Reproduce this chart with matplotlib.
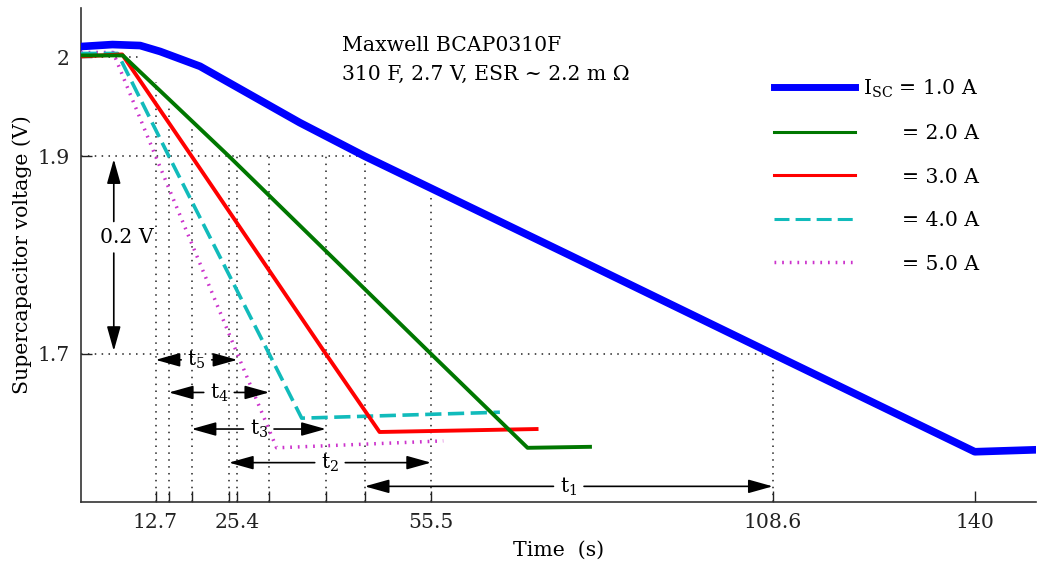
import matplotlib
matplotlib.use("Agg")
import matplotlib.pyplot as plt
from matplotlib.lines import Line2D
import numpy as np

plt.rcParams['font.family'] = ['DejaVu Serif']
plt.rcParams['mathtext.fontset'] = 'dejavuserif'

FS = 14.7

# discharge curves (time in s, voltage in V)
t_1A = [1.1, 6.0, 10.3, 13.4, 19.6, 35.1, 45.2, 77.0, 108.6, 140.0, 149.5]
v_1A = [2.011, 2.013, 2.012, 2.006, 1.991, 1.934, 1.900, 1.800, 1.700, 1.601, 1.603]
t_2A = [1.1, 7.6, 14.4, 24.1, 55.5, 70.5, 80.2]
v_2A = [2.002, 2.002, 1.960, 1.900, 1.700, 1.605, 1.606]
t_3A = [1.1, 7.5, 18.3, 39.15, 47.5, 71.9]
v_3A = [2.001, 2.003, 1.900, 1.700, 1.621, 1.624]
t_4A = [1.1, 6.8, 14.76, 30.35, 35.4, 66.2]
v_4A = [2.004, 2.004, 1.900, 1.700, 1.635, 1.641]
t_5A = [1.1, 6.1, 12.7, 25.4, 31.5, 57.4]
v_5A = [2.005, 2.005, 1.900, 1.700, 1.605, 1.612]

# crossing times, order t1..t5
t_cross_19 = [45.2, 24.1, 18.3, 14.76, 12.7]
t_cross_17 = [108.6, 55.5, 39.15, 30.35, 25.4]
vline_top_19 = [1.900, 1.900, 1.928, 1.951, 1.975]
vline_top_17 = [1.700, 1.861, 1.900, 1.900, 1.900]
arrow_v = [1.566, 1.590, 1.624, 1.661, 1.694]
t_names = ['t$_1$', 't$_2$', 't$_3$', 't$_4$', 't$_5$']

ref_levels = [2.0, 1.9, 1.7]
ref_ends = [10.5, 45.2, 108.6]

xtick_labeled = [12.7, 25.4, 55.5, 108.6, 140]
ytick_vals = [1.7, 1.9, 2.0]
ytick_labels = ['1.7', '1.9', '2']

fig = plt.figure(figsize=(10.38, 5.70), dpi=100)
ax = fig.add_axes([0.078, 0.119, 0.920, 0.867])

dot = (0, (1, 3.5))
for lv, te in zip(ref_levels, ref_ends):
    ax.plot([1.1, te], [lv, lv], color='#222222', lw=1.1, ls=dot, zorder=1)
for t, top in zip(t_cross_19 + t_cross_17, vline_top_19 + vline_top_17):
    ax.plot([t, t], [1.55, top], color='#222222', lw=1.1, ls=dot, zorder=1)

ax.plot(t_5A, v_5A, color='#cc33cc', lw=2.5, ls=(0, (0.5, 1.7)), zorder=3)
ax.plot(t_4A, v_4A, color='#11bbbb', lw=2.6, ls=(0, (4.5, 1.8)), zorder=3)
ax.plot(t_3A, v_3A, color='#ff0000', lw=2.8, zorder=3)
ax.plot(t_2A, v_2A, color='#007700', lw=2.8, zorder=3)
ax.plot(t_1A, v_1A, color='#0000ff', lw=5.5, zorder=4)

# 0.2 V marker
ap = dict(arrowstyle='-|>,head_length=1.5,head_width=0.42', color='black', lw=1.2,
          shrinkA=0, shrinkB=0, mutation_scale=10)
ax.annotate('', xy=(6.2, 1.897), xytext=(6.2, 1.834), arrowprops=ap)
ax.annotate('', xy=(6.2, 1.703), xytext=(6.2, 1.802), arrowprops=ap)
ax.text(8.2, 1.818, '0.2 V', fontsize=FS, ha='center', va='center')

# interval arrows
for name, a, b, y in zip(t_names, t_cross_19, t_cross_17, arrow_v):
    mid = (a + b) / 2
    apx = dict(ap, shrinkA=11)
    ax.annotate('', xy=(a, y), xytext=(mid, y), arrowprops=apx)
    ax.annotate('', xy=(b, y), xytext=(mid, y), arrowprops=apx)
    ax.text(mid, y, name, fontsize=FS, ha='center', va='center')

ax.text(41.6, 2.012, 'Maxwell BCAP0310F', fontsize=FS, va='center')
ax.text(41.6, 1.983, '310 F, 2.7 V, ESR ~ 2.2 m Ω', fontsize=FS, va='center')

handles = [
    Line2D([], [], color='#0000ff', lw=5),
    Line2D([], [], color='#007700', lw=2.2),
    Line2D([], [], color='#ff0000', lw=2.2),
    Line2D([], [], color='#11bbbb', lw=2.2, ls=(0, (4.9, 2))),
    Line2D([], [], color='#cc33cc', lw=2.5, ls=(0, (0.5, 1.7))),
]
pad = '      '
labels = ['I$_{\\mathregular{SC}}$ = 1.0 A', pad + '= 2.0 A', pad + '= 3.0 A', pad + '= 4.0 A', pad + '= 5.0 A']
ax.legend(handles, labels, loc='upper left', bbox_to_anchor=(0.706, 0.897), frameon=False,
          fontsize=FS, handlelength=4.0, labelspacing=1.2, handletextpad=0.4)

xt = sorted(t_cross_19 + t_cross_17 + [140])
ax.set_xlim(1.1, 149.5)
ax.set_ylim(1.55, 2.05)
ax.set_xticks(xt)
ax.set_xticklabels([('%g' % t) if t in xtick_labeled else '' for t in xt])
ax.set_yticks(ytick_vals)
ax.set_yticklabels(ytick_labels)
ax.tick_params(direction='in', length=8, width=1, labelsize=FS, colors='#222222', pad=8)
ax.spines['top'].set_visible(False)
ax.spines['right'].set_visible(False)
for s in ['left', 'bottom']:
    ax.spines[s].set_color('#333333')
    ax.spines[s].set_linewidth(1.2)
ax.set_xlabel('Time  (s)', fontsize=FS, labelpad=6)
ax.set_ylabel('Supercapacitor voltage (V)', fontsize=FS, labelpad=4)

fig.savefig('out.png', dpi=100)
